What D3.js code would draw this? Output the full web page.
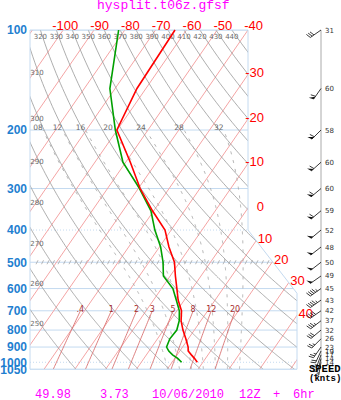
<!DOCTYPE html>
<html>
<head>
<meta charset="utf-8">
<script src="https://cdn.jsdelivr.net/npm/d3@7"></script>
<style>
	body { margin: 0; background: #fff; }
	svg { display: block; }
</style>
</head>
<body>
<svg id="chart" width="341" height="400"></svg>
<script>
// sounding levels (hPa) and values
const levels = [100, 150, 200, 250, 300, 350, 400, 450, 500, 550, 600, 650, 700, 750, 800, 850, 900, 925, 950, 975, 1000];
const tempC = [-63.7, -62.9, -60.1, -48.5, -39.4, -30.4, -22.0, -16.9, -11.7, -8.3, -5.0, -2.0, 1.5, 3.6, 6.3, 9.2, 11.8, 12.7, 14.6, 16.5, 18.2];
const dewC = [-82, -71.7, -60.6, -50.9, -39.6, -30.9, -25.3, -19.6, -15.4, -12.2, -6.3, -2.6, 0.8, 3.0, 4.3, 4.0, 4.8, 6.4, 8.5, 11.1, 13.1];
const windSpd = [31, 60, 58, 60, 60, 59, 52, 48, 50, 49, 45, 43, 42, 37, 32, 26, 23, 19, 17, 14, 14];
const windDir = [235, 215, 225, 228, 230, 230, 230, 232, 232, 235, 235, 235, 235, 232, 230, 225, 215, 205, 200, 195, 190];

// background lines and labels
const isobars = [100, 200, 300, 400, 500, 600, 700, 800, 900, 1000, 1050];
const dottedIsobars = [400, 1000];
const isotherms = d3.range(-150, 61, 10);
const topTempLabels = [-100, -90, -80, -70, -60, -50, -40];
const sideTempLabels = [-30, -20, -10, 0, 10, 20, 30, 40];
const thetas = d3.range(250, 451, 10);
const topThetaLabels = d3.range(320, 441, 10);
const leftThetaLabels = [310, 300, 290, 280, 270, 260, 250];
const thetaW = [8, 12, 16, 20, 24, 28, 32];
const mixRatios = [0.4, 1, 2, 3, 5, 8, 12, 20];

const title = "hysplit.t06z.gfsf";
const footer = [["49.98", 35], ["3.73", 100], ["10/06/2010", 152], ["12Z", 239], ["+", 273], ["6hr", 293]];

const svg = d3.select("#chart");

const y = d3.scaleLog().domain([100, 1050]).range([30, 30 + 144.3 * Math.log(10.5)]);
const xT = d3.scaleLinear().domain([-40, 0]).range([248, 248 + 4 * 30.8]);
const skew = 0.692;
function X(t, p) { return xT(t) - skew * (y(p) - 30); }

const frame = [[30, 30], [248, 30], [248, y(400)], [297, y(620)], [297, y(1050)], [30, y(1050)]];

svg.append("clipPath").attr("id", "plotClip")
	.append("polygon").attr("points", frame.map(d => d.join(",")).join(" "));

const plot = svg.append("g").attr("clip-path", "url(#plotClip)");
const line = d3.line().x(d => X(d[1], d[0])).y(d => y(d[0]));
const pSamples = d3.range(100, 1051, 5);

// thermo helpers
function esat(tc) { return 6.112 * Math.exp(17.67 * tc / (tc + 243.5)); }
function dryT(theta, p) { return theta * Math.pow(p / 1000, 0.2857) - 273.15; }
function mixT(w, p) {
	let e = w * p / (622 + w);
	let l = Math.log(e / 6.112);
	return 243.5 * l / (17.67 - l);
}
function moistRate(tK, p) {
	const Rd = 287.04, cp = 1005.7, Lv = 2.501e6, eps = 0.622;
	let es = esat(tK - 273.15);
	let rs = eps * es / (p - es);
	return (Rd * tK + Lv * rs) / (cp + Lv * Lv * rs * eps / (Rd * tK * tK)) / p;
}
function moistLine(tw) {
	let up = [], t = tw + 273.15, dp = 2;
	for (let p = 1000; p >= 200; p -= dp) {
		up.push([p, t - 273.15]);
		let k1 = moistRate(t, p);
		let k2 = moistRate(t - k1 * dp / 2, p - dp / 2);
		t -= k2 * dp;
	}
	let down = [];
	t = tw + 273.15;
	for (let p = 1000; p <= 1050; p += dp) {
		down.push([p, t - 273.15]);
		let k1 = moistRate(t, p);
		let k2 = moistRate(t + k1 * dp / 2, p + dp / 2);
		t += k2 * dp;
	}
	return down.reverse().concat(up.slice(1));
}

// isobars
isobars.forEach(function(p) {
	plot.append("line")
		.attr("x1", 30).attr("x2", 300)
		.attr("y1", y(p)).attr("y2", y(p))
		.style("stroke", "#c4daf0")
		.style("stroke-width", 1)
		.style("stroke-dasharray", dottedIsobars.includes(p) ? "1,2" : null);
});
// hatch marks along 500
d3.range(36, 268, 5.5).forEach(function(x) {
	plot.append("line")
		.attr("x1", x).attr("y1", y(500) + 2)
		.attr("x2", x + 2).attr("y2", y(500) - 2)
		.style("stroke", "#a4a4a4").style("stroke-width", 0.8);
});

// isotherms
plot.selectAll(".iso").data(isotherms).enter().append("path")
	.attr("d", t => line([[100, t], [1050, t]]))
	.style("fill", "none").style("stroke", "#f4a4a4").style("stroke-width", 1);

// dry adiabats
plot.selectAll(".dry").data(thetas).enter().append("path")
	.attr("d", th => line(pSamples.map(p => [p, dryT(th, p)])))
	.style("fill", "none").style("stroke", "#999999").style("stroke-width", 0.8);

// moist adiabats
plot.selectAll(".moist").data(thetaW).enter().append("path")
	.attr("d", tw => line(moistLine(tw)))
	.style("fill", "none").style("stroke", "#a8a8a8").style("stroke-width", 0.9)
	.style("stroke-dasharray", "3,6");

// mixing ratio lines
plot.selectAll(".mix").data(mixRatios).enter().append("path")
	.attr("d", w => line(d3.range(700, 1051, 10).map(p => [p, mixT(w, p)])))
	.style("fill", "none").style("stroke", "#d87070").style("stroke-width", 0.9);

// frame
svg.append("polygon")
	.attr("points", frame.map(d => d.join(",")).join(" "))
	.style("fill", "none").style("stroke", "#c4daf0").style("stroke-width", 1);

// pressure axis
let yAxis = svg.append("g")
	.attr("transform", "translate(29,0)")
	.call(d3.axisLeft(y).tickValues(isobars).tickSize(0).tickPadding(2).tickFormat(d3.format("d")));
yAxis.select(".domain").remove();
yAxis.selectAll("text")
	.style("font-family", "Liberation Sans, Arial, sans-serif")
	.style("font-size", "12px").style("font-weight", "bold")
	.style("fill", "#1f7fd0");

// temperature labels
let tFont = "Liberation Sans, Arial, sans-serif";
svg.selectAll(".ttop").data(topTempLabels).enter().append("text")
	.attr("x", t => X(t, 100) + 15).attr("y", 29.5)
	.attr("text-anchor", "end")
	.style("font-family", tFont).style("font-size", "13px").style("fill", "#ff0000")
	.text(t => t);

function borderX(yy) {
	if (yy <= y(400)) return 248;
	if (yy >= y(620)) return 297;
	return 248 + (yy - y(400)) * 49 / (y(620) - y(400));
}
sideTempLabels.forEach(function(t) {
	// find where the isotherm meets the right border
	let lo = 100, hi = 1050;
	for (let i = 0; i < 40; i++) {
		let mid = Math.sqrt(lo * hi);
		if (X(t, mid) > borderX(y(mid))) lo = mid; else hi = mid;
	}
	let yy = y(lo);
	svg.append("text")
		.attr("x", borderX(yy) + 16).attr("y", yy - 2 + 4.6)
		.attr("text-anchor", "end")
		.style("font-family", tFont).style("font-size", "13px").style("fill", "#ff0000")
		.text(t);
});

// theta labels
let smallFont = "DejaVu Sans, sans-serif";
svg.selectAll(".thtop").data(topThetaLabels).enter().append("text")
	.attr("x", th => X(dryT(th, 100), 100)).attr("y", 38.5)
	.attr("text-anchor", "middle")
	.style("font-family", smallFont).style("font-size", "7px").style("fill", "#6a6a6a")
	.text(th => th);

leftThetaLabels.forEach(function(th) {
	let lo = 100, hi = 1050;
	for (let i = 0; i < 40; i++) {
		let mid = Math.sqrt(lo * hi);
		if (X(dryT(th, mid), mid) < 37) lo = mid; else hi = mid;
	}
	svg.append("text")
		.attr("x", 37).attr("y", y(lo) + 6.5)
		.attr("text-anchor", "middle")
		.style("font-family", smallFont).style("font-size", "7px").style("fill", "#6a6a6a")
		.text(th);
});

// moist adiabat labels at 200
thetaW.forEach(function(tw) {
	let pts = moistLine(tw);
	let top = pts[pts.length - 1];
	svg.append("text")
		.attr("x", X(top[1], top[0]) - 5).attr("y", y(200) - 0.5)
		.attr("text-anchor", "middle")
		.style("font-family", smallFont).style("font-size", "7.5px").style("fill", "#6a6a6a")
		.text(d3.format("02d")(tw));
});

// mixing ratio labels at 700
svg.selectAll(".mixlab").data(mixRatios).enter().append("text")
	.attr("x", w => X(mixT(w, 700), 700)).attr("y", y(700) + 1)
	.attr("text-anchor", "middle")
	.style("font-family", smallFont).style("font-size", "8px").style("fill", "#a83030")
	.text(w => w < 1 ? String(w).replace("0.", ".") : w);

// sounding
let prof = d3.line().x(d => X(d.t, d.p)).y(d => y(d.p));
let tData = levels.map((p, i) => ({p: p, t: tempC[i]}));
let dData = levels.map((p, i) => ({p: p, t: dewC[i]}));
svg.append("path").attr("d", prof(dData))
	.style("fill", "none").style("stroke", "#00a000").style("stroke-width", 1.6);
svg.append("path").attr("d", prof(tData))
	.style("fill", "none").style("stroke", "#ff0000").style("stroke-width", 1.6);

// wind barbs
const poleX = 321;
svg.append("line")
	.attr("x1", poleX).attr("x2", poleX)
	.attr("y1", y(100)).attr("y2", y(1000))
	.style("stroke", "#aaaaaa").style("stroke-width", 1);

function barb(x0, y0, spd, dir) {
	let L = 13, bl = 5, gap = 2.2;
	let a = dir * Math.PI / 180;
	let ux = Math.sin(a), uy = -Math.cos(a);
	let px = -uy, py = ux;
	let bx = (px * 0.95 + ux * 0.3) * bl, by = (py * 0.95 + uy * 0.3) * bl;
	let g = svg.append("g");
	let tx = x0 + ux * L, ty = y0 + uy * L;
	g.append("line").attr("x1", x0).attr("y1", y0).attr("x2", tx).attr("y2", ty)
		.style("stroke", "#222").style("stroke-width", 0.9);
	let s = Math.round(spd / 5) * 5;
	let pos = 0;
	while (s >= 50) {
		let sx = tx - ux * pos, sy = ty - uy * pos;
		g.append("polygon")
			.attr("points", [[sx, sy], [sx + bx, sy + by], [sx - ux * 3, sy - uy * 3]].map(d => d.join(",")).join(" "))
			.style("fill", "#111");
		pos += 3.5;
		s -= 50;
	}
	while (s >= 10) {
		let sx = tx - ux * pos, sy = ty - uy * pos;
		g.append("line").attr("x1", sx).attr("y1", sy).attr("x2", sx + bx).attr("y2", sy + by)
			.style("stroke", "#222").style("stroke-width", 0.9);
		pos += gap;
		s -= 10;
	}
	if (s >= 5) {
		let sx = tx - ux * pos, sy = ty - uy * pos;
		g.append("line").attr("x1", sx).attr("y1", sy).attr("x2", sx + bx / 2).attr("y2", sy + by / 2)
			.style("stroke", "#222").style("stroke-width", 0.9);
	}
}
levels.forEach(function(p, i) {
	barb(poleX, y(p), windSpd[i], windDir[i]);
	svg.append("text")
		.attr("x", 325).attr("y", y(p) + 2.5)
		.style("font-family", smallFont).style("font-size", "7px").style("fill", "#333")
		.text(windSpd[i]);
});

let monoFont = "Liberation Mono, Courier New, monospace";
svg.append("text").attr("x", 309).attr("y", 372)
	.style("font-family", monoFont).style("font-size", "10.5px").style("font-weight", "bold")
	.text("SPEED");
svg.append("text").attr("x", 309).attr("y", 381)
	.style("font-family", monoFont).style("font-size", "9px").style("font-weight", "bold")
	.text("(knts)");

// title and footer
svg.append("text").attr("x", 97).attr("y", 8.5)
	.style("font-family", monoFont).style("font-size", "13px").style("fill", "#ff00ff")
	.text(title);
svg.selectAll(".foot").data(footer).enter().append("text")
	.attr("x", d => d[1]).attr("y", 397.5)
	.style("font-family", monoFont).style("font-size", "12px").style("fill", "#ff00ff")
	.text(d => d[0]);
</script>
</body>
</html>
